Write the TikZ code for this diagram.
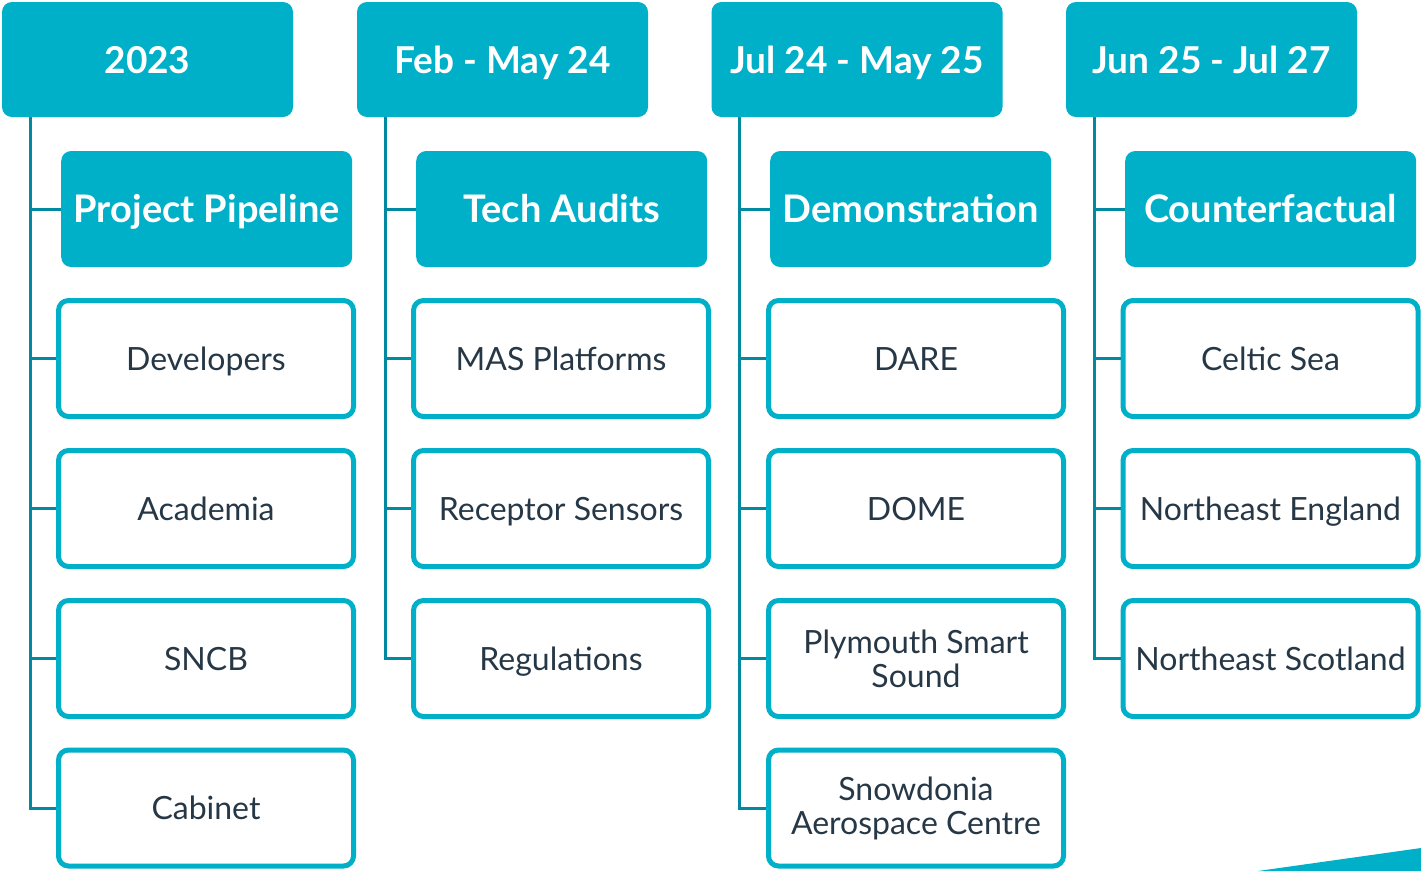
\documentclass[tikz,border=0pt]{standalone}
\usepackage{fontspec}
\setmainfont{Lato}
\usepackage{tikz}
\usetikzlibrary{positioning}
\usetikzlibrary{calc}

\definecolor{teal}{HTML}{00AFC8}
\definecolor{stem}{HTML}{00899F}
\definecolor{ink}{HTML}{263746}

\begin{document}
\begin{tikzpicture}[x=1pt,y=-1pt,
    head/.style={fill=teal,rounded corners=10pt,minimum width=291pt,minimum height=115pt,
      text=white,text height=27pt,text depth=0pt,font=\fontsize{37}{40}\selectfont\bfseries},
    topic/.style={head,minimum height=116pt,font=\fontsize{38}{40}\selectfont\bfseries},
    leaf/.style={draw=teal,line width=5pt,rounded corners=10pt,fill=white,
      minimum width=295pt,minimum height=116pt,text=ink,align=center,
      text height=23pt,text depth=0pt,font=\fontsize{32}{34}\selectfont},
    twoline/.style={text height={},text depth={}},
    link/.style={draw=stem,line width=3pt}]
  \useasboundingbox (0,0) rectangle (1421,871);
  % 2023
  \node[head] (h1) at (147.5,59.5) {2023};
  \coordinate (t1) at ([xshift=-117.5pt]h1.south);
  \node[topic,anchor=west] (c1s) at (61,209) {Project Pipeline};
  \node[leaf] (c1a) at (206,358.5) {Developers};
  \node[leaf] (c1b) at (206,508.5) {Academia};
  \node[leaf] (c1c) at (206,658.5) {SNCB};
  \node[leaf] (c1d) at (206,808) {Cabinet};
  % Feb - May 24
  \node[head] (h2) at (502.5,59.5) {Feb - May 24};
  \coordinate (t2) at ([xshift=-117.5pt]h2.south);
  \node[topic,anchor=west] (c2s) at (416,209) {Tech Audits};
  \node[leaf] (c2a) at (561,358.5) {MAS Platforms};
  \node[leaf] (c2b) at (561,508.5) {Receptor Sensors};
  \node[leaf] (c2c) at (561,658.5) {Regulations};
  % Jul 24 - May 25
  \node[head] (h3) at (857,59.5) {Jul 24 - May 25};
  \coordinate (t3) at ([xshift=-117.5pt]h3.south);
  \node[topic,anchor=west,minimum width=281pt] (c3s) at (770,209) {Demonstration};
  \node[leaf] (c3a) at (916,358.5) {DARE};
  \node[leaf] (c3b) at (916,508.5) {DOME};
  \node[leaf,twoline] (c3c) at (916,658.5) {Plymouth Smart\\Sound};
  \node[leaf,twoline] (c3d) at (916,808) {Snowdonia\\Aerospace Centre};
  % Jun 25 - Jul 27
  \node[head] (h4) at (1211.5,59.5) {Jun 25 - Jul 27};
  \coordinate (t4) at ([xshift=-117.5pt]h4.south);
  \node[topic,anchor=west] (c4s) at (1125,209) {Counterfactual};
  \node[leaf] (c4a) at (1270.5,358.5) {Celtic Sea};
  \node[leaf] (c4b) at (1270.5,508.5) {Northeast England};
  \node[leaf] (c4c) at (1270.5,658.5) {Northeast Scotland};

  % stems
  \draw[link] (t1) |- (c1d.west);
  \draw[link] (t1 |- c1s) -- (c1s.west);
  \draw[link] (t1 |- c1a) -- (c1a.west);
  \draw[link] (t1 |- c1b) -- (c1b.west);
  \draw[link] (t1 |- c1c) -- (c1c.west);
  \draw[link] (t2) |- (c2c.west);
  \draw[link] (t2 |- c2s) -- (c2s.west);
  \draw[link] (t2 |- c2a) -- (c2a.west);
  \draw[link] (t2 |- c2b) -- (c2b.west);
  \draw[link] (t3) |- (c3d.west);
  \draw[link] (t3 |- c3s) -- (c3s.west);
  \draw[link] (t3 |- c3a) -- (c3a.west);
  \draw[link] (t3 |- c3b) -- (c3b.west);
  \draw[link] (t3 |- c3c) -- (c3c.west);
  \draw[link] (t4) |- (c4c.west);
  \draw[link] (t4 |- c4s) -- (c4s.west);
  \draw[link] (t4 |- c4a) -- (c4a.west);
  \draw[link] (t4 |- c4b) -- (c4b.west);

  % corner sliver
  \fill[teal] (1258,871) -- (1421,848) -- (1421,871) -- cycle;
\end{tikzpicture}
\end{document}
